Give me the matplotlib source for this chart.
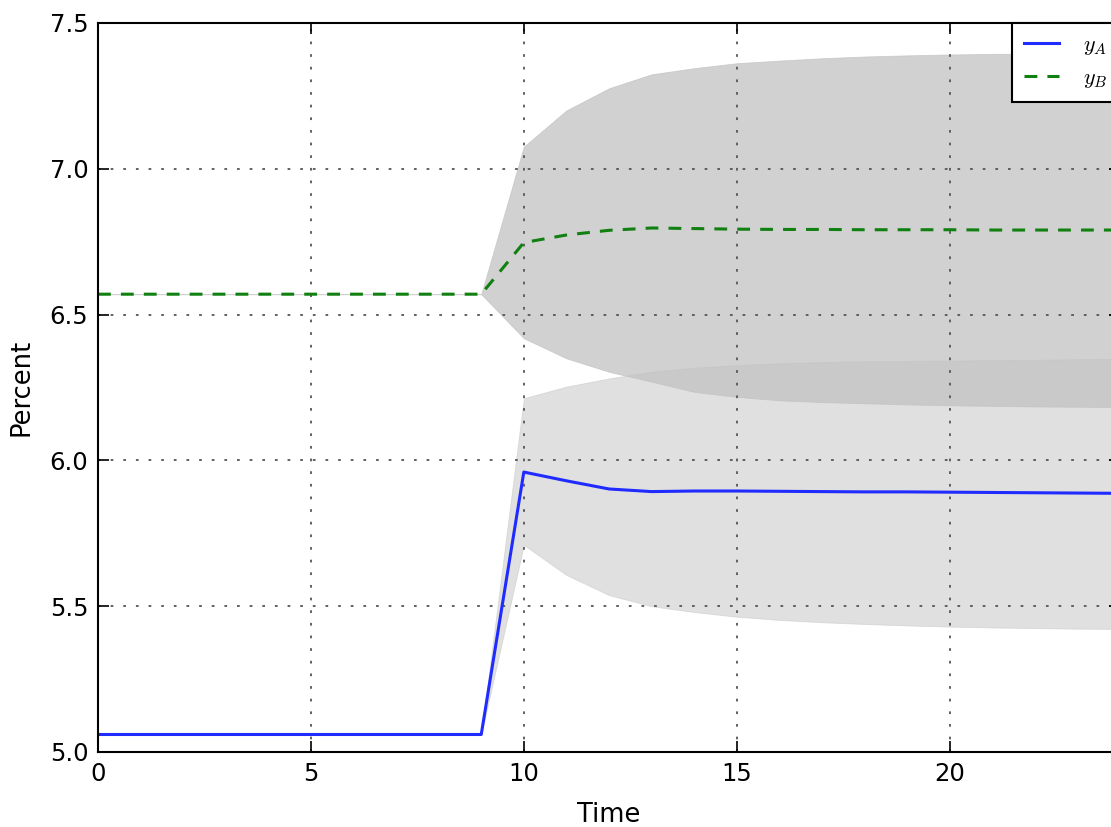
import numpy as np
import matplotlib
matplotlib.use('Agg')
import matplotlib.pyplot as plt

# time steps
t = list(range(25))

# series A (mean, band)
y_a = [5.06] * 10 + [5.960, 5.930, 5.902, 5.893, 5.895, 5.895, 5.894, 5.893,
                     5.892, 5.892, 5.891, 5.890, 5.889, 5.888, 5.887]
a_low = [5.06] * 10 + [5.710, 5.607, 5.538, 5.500, 5.480, 5.464, 5.453, 5.445,
                       5.439, 5.434, 5.430, 5.427, 5.425, 5.423, 5.422]
a_high = [5.06] * 10 + [6.213, 6.253, 6.281, 6.304, 6.318, 6.327, 6.333, 6.337,
                        6.340, 6.341, 6.342, 6.344, 6.345, 6.347, 6.348]

# series B (mean, band)
y_b = [6.57] * 10 + [6.747, 6.773, 6.789, 6.797, 6.795, 6.793, 6.792, 6.792,
                     6.791, 6.791, 6.791, 6.790, 6.790, 6.790, 6.790]
b_low = [6.57] * 10 + [6.419, 6.350, 6.304, 6.270, 6.235, 6.218, 6.206, 6.200,
                       6.196, 6.192, 6.189, 6.187, 6.185, 6.184, 6.183]
b_high = [6.57] * 10 + [7.076, 7.200, 7.276, 7.324, 7.345, 7.362, 7.371, 7.379,
                        7.385, 7.389, 7.392, 7.394, 7.395, 7.396, 7.396]

xticks = [0, 5, 10, 15, 20]
yticks = [5.0, 5.5, 6.0, 6.5, 7.0, 7.5]

plt.rcParams['mathtext.fontset'] = 'cm'
plt.rcParams['xtick.direction'] = 'in'
plt.rcParams['ytick.direction'] = 'in'

fig = plt.figure(figsize=(11.11, 8.27), dpi=100)
ax = fig.add_axes([0.0882, 0.0907, 0.9199, 0.8815])

band_col = '#c2c2c2'
ax.fill_between(t, b_low, b_high, color=band_col, alpha=0.75, linewidth=0.6)
ax.fill_between(t, a_low, a_high, color=band_col, alpha=0.5, linewidth=0.6)

ax.plot(t, y_a, color='#1f2bff', lw=2.2, label='$y_A$')
ax.plot(t, y_b, color='#108010', lw=2.2, dashes=(4.2, 3.3), label='$y_B$')

ax.set_xlim(0, 24)
ax.set_ylim(5.0, 7.5)
ax.set_xticks(xticks)
ax.set_yticks(yticks)
ax.set_yticklabels(['%.1f' % v for v in yticks])
ax.grid(True, color='#555555', linestyle=(0, (1.5, 5.5)), linewidth=1.3)
ax.tick_params(axis='both', which='both', top=True, right=True, length=8,
               width=1.2, labelsize=17.5, pad=7)
for s in ax.spines.values():
    s.set_linewidth(1.5)

ax.set_xlabel('Time', fontsize=18.5, labelpad=12)
ax.set_ylabel('Percent', fontsize=18.5, labelpad=11)

leg = ax.legend(loc='upper right', fontsize=16, borderaxespad=0.0,
                fancybox=False, framealpha=1.0, handlelength=1.55,
                handletextpad=1.1, borderpad=0.55, labelspacing=0.48,
                edgecolor='black')
leg.get_frame().set_linewidth(1.5)

fig.savefig('out.png', dpi=100)
